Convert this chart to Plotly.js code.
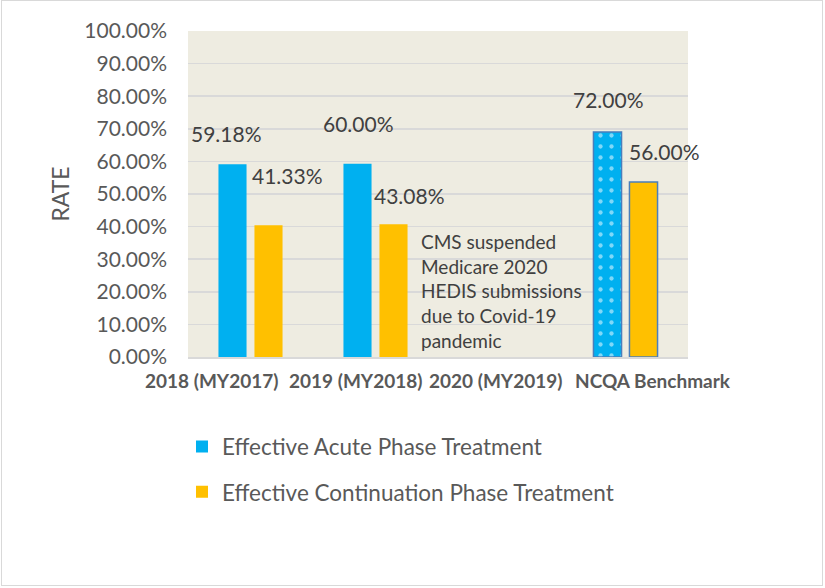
<!DOCTYPE html>
<html><head><meta charset="utf-8">
<script src="https://cdn.plot.ly/plotly-3.0.1.min.js"></script>
<style>
html,body{margin:0;padding:0;background:#fff;}
#chart{width:825px;height:588px;position:absolute;left:0;top:0;}
#frame{position:absolute;left:1px;top:0px;width:820px;height:584px;border:1px solid #d9d9d9;pointer-events:none;}
</style>
</head><body><div id="chart"></div><div id="frame"></div>
<script>
// ---- data ----
const categories = ['2018 (MY2017)', '2019 (MY2018)', '2020 (MY2019)', 'NCQA Benchmark'];
const acuteValues = [59.1, 59.3, null, 69.0];
const continuationValues = [40.4, 40.7, null, 53.7];
const acuteLabels = ['59.18%', '60.00%', '', '72.00%'];
const continuationLabels = ['41.33%', '43.08%', '', '56.00%'];
const seriesNames = ['Effective Acute Phase Treatment', 'Effective Continuation Phase Treatment'];
const yTickValues = [0, 10, 20, 30, 40, 50, 60, 70, 80, 90, 100];
const yTickLabels = ['0.00%', '10.00%', '20.00%', '30.00%', '40.00%', '50.00%', '60.00%', '70.00%', '80.00%', '90.00%', '100.00%'];
const yAxisTitle = 'RATE';
const noteCategory = '2020 (MY2019)';
const noteText = 'CMS suspended<br>Medicare 2020<br>HEDIS submissions<br>due to Covid-19<br>pandemic';

// ---- styles ----
const FONT = 'Lato, "Open Sans", sans-serif';
const TXT = '#595959';
const acuteShift = [[-24, 31], [-17, 40], [0, 0], [-17, 33]];
const contShift = [[37, 50], [34, 29], [0, 0], [39, 30]];
const catLabelShift = [-39, -20, -5, 27];

const traces = [
  {
    type: 'bar', name: seriesNames[0], x: categories, y: acuteValues,
    marker: {
      color: '#00b0f0',
      line: {color: ['#00b0f0', '#00b0f0', '#00b0f0', '#4a7ebb'], width: [0, 0, 0, 1.5]},
      pattern: {shape: ['', '', '', '.'], fgcolor: '#ffffff', size: 11, solidity: 0.12, fillmode: 'overlay'}
    },
    legendgroup: 'a', hoverinfo: 'skip'
  },
  {
    type: 'bar', name: seriesNames[1], x: categories, y: continuationValues,
    marker: {
      color: '#ffc000',
      line: {color: ['#4a7ebb', '#ffc000', '#ffc000', '#4a7ebb'], width: [0, 0, 0, 1.5]}
    },
    legendgroup: 'b', hoverinfo: 'skip'
  }
];

const annotations = [];
categories.forEach((c, i) => {
  if (acuteLabels[i]) {
    annotations.push({x: c, y: acuteValues[i], xref: 'x', yref: 'y', text: acuteLabels[i], showarrow: false,
      xshift: acuteShift[i][0], yshift: acuteShift[i][1], yanchor: 'middle', font: {family: FONT, size: 21, color: '#404040'}});
  }
  if (continuationLabels[i]) {
    annotations.push({x: c, y: continuationValues[i], xref: 'x', yref: 'y', text: continuationLabels[i], showarrow: false,
      xshift: contShift[i][0], yshift: contShift[i][1], yanchor: 'middle', font: {family: FONT, size: 21, color: '#404040'}});
  }
  annotations.push({x: c, y: 0, xref: 'x', yref: 'paper', text: '<b>' + c + '</b>', showarrow: false,
    xshift: catLabelShift[i], yshift: -23, yanchor: 'middle', font: {family: FONT, size: 19, color: TXT}});
});
annotations.push({x: noteCategory, y: 39.6, xref: 'x', yref: 'y', text: noteText, showarrow: false,
  xanchor: 'left', yanchor: 'top', align: 'left', xshift: -82, font: {family: FONT, size: 19, color: '#404040'}});

const layout = {
  width: 825, height: 588,
  margin: {l: 188, r: 137, t: 31, b: 231, pad: 0},
  paper_bgcolor: '#ffffff', plot_bgcolor: '#eeece1',
  barmode: 'group', bargap: 0.424, bargroupgap: 0.22,
  font: {family: FONT, color: TXT},
  xaxis: {type: 'category', range: [-0.5, 3.5], autorange: false, showticklabels: false, showgrid: false, zeroline: false,
    showline: true, linecolor: '#d9d9d9', linewidth: 1.5, ticks: ''},
  yaxis: {range: [0, 100], tickvals: yTickValues, ticktext: yTickLabels, showgrid: true,
    gridcolor: '#d9d9d9', gridwidth: 1.5, zeroline: false, showline: false, ticks: '',
    ticklabelstandoff: 20, tickfont: {family: FONT, size: 21, color: TXT},
    title: {text: yAxisTitle, font: {family: FONT, size: 23, color: TXT}, standoff: 8}},
  showlegend: true,
  legend: {x: -0.012, xanchor: 'left', y: -0.21, yanchor: 'top', orientation: 'v',
    traceorder: 'grouped', tracegroupgap: 13, font: {family: FONT, size: 22.5, color: TXT},
    bgcolor: 'rgba(0,0,0,0)'},
  annotations: annotations
};

Plotly.newPlot('chart', traces, layout, {staticPlot: true, displayModeBar: false});
</script>
</body></html>
